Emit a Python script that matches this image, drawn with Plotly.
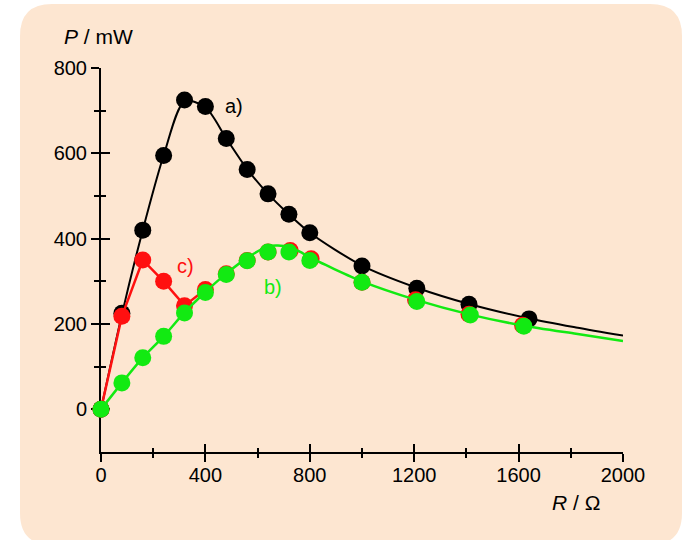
import plotly.graph_objects as go

# ---- data ----
R_a = [0, 80, 160, 240, 320, 400, 480, 560, 640, 720, 800, 1000, 1210, 1410, 1640]
P_a = [0, 225, 420, 595, 725, 710, 635, 562, 505, 457, 414, 336, 284, 246, 212]
R_a_curve = [0, 80, 160, 240, 320, 400, 480, 560, 640, 720, 800, 1000, 1210, 1410, 1640, 1820, 2000]
P_a_curve = [0, 222, 420, 595, 722, 708, 635, 563, 505, 457, 414, 337, 285, 247, 213, 192, 173]

R_c = [0, 80, 160, 240, 320, 400, 480, 560, 640, 725, 805, 1000, 1205, 1410, 1615]
P_c = [0, 218, 350, 300, 243, 281, 318, 349, 369, 372, 353, 298, 257, 223, 197]
R_c_curve = [0, 80, 160, 240, 320, 400]
P_c_curve = [0, 218, 350, 300, 243, 281]

R_b = [0, 80, 160, 240, 320, 400, 480, 560, 640, 720, 800, 1000, 1210, 1415, 1620]
P_b = [0, 62, 121, 171, 226, 274, 316, 348, 369, 369, 349, 298, 253, 221, 195]
R_b_curve = [0, 80, 160, 240, 320, 400, 480, 560, 640, 700, 760, 800, 1000, 1210, 1415, 1620, 1820, 2000]
P_b_curve = [0, 62, 121, 171, 227, 275, 318, 355, 382, 383, 370, 356, 300, 256, 222, 196, 177, 160]

x_major = [0, 400, 800, 1200, 1600, 2000]
x_minor = [200, 600, 1000, 1400, 1800]
y_major = [0, 200, 400, 600, 800]
y_minor = [100, 300, 500, 700]

BLACK = "#000000"
RED = "#ff1010"
GREEN = "#12ea12"
BG = "#fde6d1"
FONT = "Liberation Sans, Arial, sans-serif"

W, H = 694, 540
L, Rm, T, B = 101, 71, 68, 88
PW, PH = W - L - Rm, H - T - B


def px(x):
    return (x - L) / PW


def py(y):
    return (H - B - y) / PH


fig = go.Figure()

fig.add_trace(go.Scatter(x=R_a_curve, y=P_a_curve, mode="lines",
                         line=dict(color=BLACK, width=2, shape="spline", smoothing=0.8),
                         cliponaxis=False, hoverinfo="skip"))
fig.add_trace(go.Scatter(x=R_a, y=P_a, mode="markers",
                         marker=dict(color=BLACK, size=17), cliponaxis=False))
fig.add_trace(go.Scatter(x=R_c_curve, y=P_c_curve, mode="lines",
                         line=dict(color=RED, width=2.5), cliponaxis=False, hoverinfo="skip"))
fig.add_trace(go.Scatter(x=R_c, y=P_c, mode="markers",
                         marker=dict(color=RED, size=17), cliponaxis=False))
fig.add_trace(go.Scatter(x=R_b_curve, y=P_b_curve, mode="lines",
                         line=dict(color=GREEN, width=2.5, shape="spline", smoothing=0.6),
                         cliponaxis=False, hoverinfo="skip"))
fig.add_trace(go.Scatter(x=R_b, y=P_b, mode="markers",
                         marker=dict(color=GREEN, size=17), cliponaxis=False))
# helper trace so the overlay axes (inner halves of crossing ticks) are drawn
fig.add_trace(go.Scatter(x=[None], y=[None], xaxis="x2", yaxis="y2", showlegend=False))

tickfont = dict(family=FONT, size=20, color=BLACK)
common_x = dict(range=[0, 2000], tickvals=x_major, showgrid=False, zeroline=False,
                showline=True, linecolor=BLACK, linewidth=2, tickcolor=BLACK, tickwidth=2,
                layer="below traces")
common_y = dict(range=[-100, 800], tickvals=y_major, showgrid=False, zeroline=False,
                showline=True, linecolor=BLACK, linewidth=2, tickcolor=BLACK, tickwidth=2,
                layer="below traces")

fig.update_layout(
    width=W, height=H,
    margin=dict(l=L, r=Rm, t=T, b=B, pad=0),
    paper_bgcolor="white", plot_bgcolor="rgba(0,0,0,0)",
    showlegend=False,
    xaxis=dict(**common_x, ticks="outside", ticklen=8, tickfont=tickfont,
               ticklabelstandoff=-4,
               minor=dict(tickvals=x_minor, ticks="outside", ticklen=4, tickwidth=2, tickcolor=BLACK)),
    yaxis=dict(**common_y, ticks="outside", ticklen=8, tickfont=tickfont,
               minor=dict(tickvals=y_minor, ticks="outside", ticklen=5, tickwidth=2, tickcolor=BLACK)),
    xaxis2=dict(**common_x, overlaying="x", anchor="y2", side="bottom", ticks="inside", ticklen=8,
                showticklabels=False,
                minor=dict(tickvals=x_minor, ticks="inside", ticklen=4, tickwidth=2, tickcolor=BLACK)),
    yaxis2=dict(**common_y, overlaying="y", anchor="x2", side="left", ticks="inside", ticklen=9,
                showticklabels=False,
                minor=dict(tickvals=y_minor, ticks="inside", ticklen=5, tickwidth=2, tickcolor=BLACK)),
)

# rounded peach background panel
x0, x1, y0, y1, r = 20, 682, 4, 545, 32
path = (f"M {px(x0 + r)},{py(y0)} L {px(x1 - r)},{py(y0)} "
        f"Q {px(x1)},{py(y0)} {px(x1)},{py(y0 + r)} "
        f"L {px(x1)},{py(y1 - r)} Q {px(x1)},{py(y1)} {px(x1 - r)},{py(y1)} "
        f"L {px(x0 + r)},{py(y1)} Q {px(x0)},{py(y1)} {px(x0)},{py(y1 - r)} "
        f"L {px(x0)},{py(y0 + r)} Q {px(x0)},{py(y0)} {px(x0 + r)},{py(y0)} Z")
fig.add_shape(type="path", path=path, xref="paper", yref="paper",
              fillcolor=BG, line=dict(width=0), layer="below")

# axis titles
fig.add_annotation(text="<i>P</i> / mW", xref="paper", yref="paper", x=px(62), y=py(36),
                   xanchor="left", yanchor="middle", showarrow=False,
                   font=dict(family=FONT, size=21, color=BLACK))
fig.add_annotation(text="<i>R</i> / Ω", xref="paper", yref="paper", x=px(602), y=py(502),
                   xanchor="right", yanchor="middle", showarrow=False,
                   font=dict(family=FONT, size=21, color=BLACK))

# curve labels
fig.add_annotation(text="a)", x=510, y=711, showarrow=False,
                   font=dict(family=FONT, size=20, color=BLACK))
fig.add_annotation(text="c)", x=322, y=337, showarrow=False,
                   font=dict(family=FONT, size=20, color=RED))
fig.add_annotation(text="b)", x=659, y=286, showarrow=False,
                   font=dict(family=FONT, size=20, color=GREEN))

fig.write_html("out.html", config={"displayModeBar": False},
               post_script="document.body.style.margin='0';")
